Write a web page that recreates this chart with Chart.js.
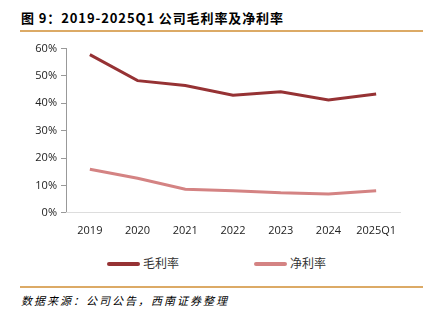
<!DOCTYPE html>
<html>
<head>
<meta charset="utf-8">
<script src="https://cdn.jsdelivr.net/npm/chart.js@4"></script>
<style>
  body { margin: 0; width: 430px; height: 324px; background: #fff; position: relative; overflow: hidden; }
  .title { position: absolute; left: 21px; top: 8px; font: bold 13px "Noto Sans CJK SC", "Liberation Sans", sans-serif; color: #000; letter-spacing: 0.9px; }
  .rule { position: absolute; left: 20px; width: 403px; height: 2px; background: #dcaa66; }
  .note { position: absolute; left: 21px; top: 292px; font: italic 11px "Noto Sans CJK SC", serif; color: #000; letter-spacing: 2px; }
  #wrap { position: absolute; left: 0; top: 38px; width: 430px; height: 202px; }
  .legend { position: absolute; top: 254px; font: 12px "Noto Sans CJK SC", sans-serif; color: #333; line-height: 18px; }
  .legend i { display: inline-block; width: 33px; height: 4px; border-radius: 2px; vertical-align: middle; margin-right: 3px; margin-top: -2px; }
</style>
</head>
<body>
<div class="title">图 9：2019-2025Q1 公司毛利率及净利率</div>
<div class="rule" style="top:30px"></div>
<div id="wrap"><canvas id="chart"></canvas></div>
<div class="legend" id="lg0" style="left:107px"></div>
<div class="legend" id="lg1" style="left:254px"></div>
<div class="rule" style="top:286px"></div>
<div class="note">数据来源：公司公告，西南证券整理</div>
<script>
// categories and series (%)
const years = ['2019', '2020', '2021', '2022', '2023', '2024', '2025Q1'];
const grossMargin = [57.8, 48.3, 46.5, 43.0, 44.2, 41.2, 43.4];
const netMargin = [15.9, 12.6, 8.6, 8.1, 7.3, 6.9, 8.1];
const yTicks = [0, 10, 20, 30, 40, 50, 60];
const seriesNames = ['毛利率', '净利率'];
const seriesColors = ['#963234', '#d48383'];

const chart = new Chart(document.getElementById('chart'), {
    type: 'line',
    data: {
        labels: years,
        datasets: [grossMargin, netMargin].map((values, i) => ({
            label: seriesNames[i],
            data: values,
            borderColor: seriesColors[i],
            backgroundColor: seriesColors[i],
            borderWidth: 3,
            pointRadius: 0,
            tension: 0
        }))
    },
    options: {
        responsive: true,
        maintainAspectRatio: false,
        animation: false,
        layout: { padding: { top: 9, right: 30, left: 0, bottom: 0 } },
        plugins: {
            legend: { display: false },
            tooltip: { enabled: false }
        },
        scales: {
            y: {
                min: 0,
                max: 60,
                afterFit: scale => { scale.width = 66; },
                afterBuildTicks: scale => { scale.ticks = yTicks.map(v => ({ value: v })); },
                grid: { drawOnChartArea: false, drawTicks: true, tickLength: 5, color: '#999' },
                border: { color: '#999' },
                ticks: {
                    padding: 4,
                    color: '#222',
                    font: { size: 11, family: '"Open Sans", sans-serif' },
                    callback: v => v + '%'
                }
            },
            x: {
                offset: true,
                grid: { display: false },
                border: { color: '#ddd' },
                ticks: {
                    padding: 3,
                    color: '#222',
                    maxRotation: 0,
                    font: { size: 11, family: '"Open Sans", sans-serif' }
                }
            }
        }
    }
});

// simple legend from the dataset styles
chart.data.datasets.forEach((ds, i) => {
    const el = document.getElementById('lg' + i);
    el.innerHTML = '<i style="background:' + ds.borderColor + '"></i>' + ds.label;
});
</script>
</body>
</html>
